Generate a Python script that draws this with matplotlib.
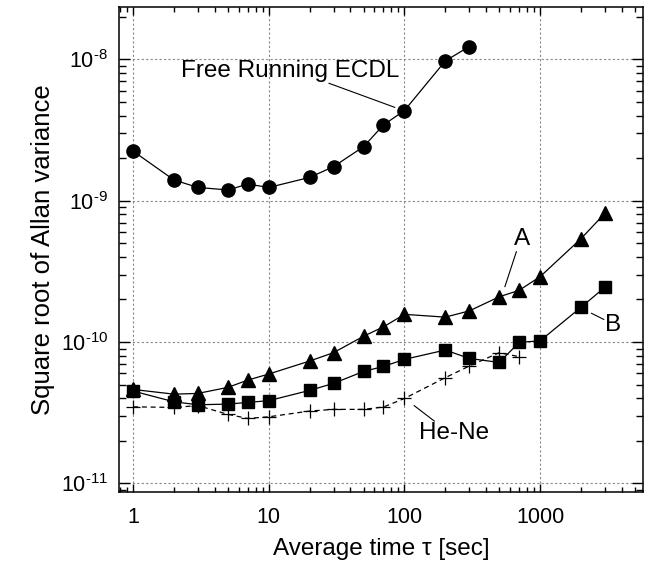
import matplotlib
matplotlib.use("Agg")
import matplotlib.pyplot as plt
from matplotlib.ticker import LogLocator, FixedLocator, NullFormatter

plt.rcParams['font.family'] = ['Liberation Sans', 'DejaVu Sans']
plt.rcParams['mathtext.fontset'] = 'custom'
plt.rcParams['mathtext.rm'] = 'Liberation Sans'
plt.rcParams['mathtext.it'] = 'Liberation Sans:italic'

# free running ECDL
tau_ecdl = [1, 2, 3, 5, 7, 10, 20, 30, 50, 70, 100, 200, 300]
ecdl = [2.24e-9, 1.40e-9, 1.24e-9, 1.19e-9, 1.31e-9, 1.24e-9, 1.46e-9,
        1.74e-9, 2.41e-9, 3.43e-9, 4.34e-9, 9.73e-9, 1.23e-8]

# stabilized A (triangles)
tau_ab = [1, 2, 3, 5, 7, 10, 20, 30, 50, 70, 100, 200, 300, 500, 700,
          1000, 2000, 3000]
sig_a = [4.62e-11, 4.28e-11, 4.33e-11, 4.78e-11, 5.38e-11, 5.94e-11,
         7.34e-11, 8.41e-11, 1.10e-10, 1.28e-10, 1.57e-10, 1.50e-10,
         1.66e-10, 2.09e-10, 2.32e-10, 2.90e-10, 5.38e-10, 8.13e-10]
# stabilized B (squares)
sig_b = [4.50e-11, 3.78e-11, 3.60e-11, 3.64e-11, 3.74e-11, 3.85e-11,
         4.55e-11, 5.10e-11, 6.20e-11, 6.72e-11, 7.54e-11, 8.78e-11,
         7.66e-11, 7.17e-11, 9.95e-11, 1.02e-10, 1.76e-10, 2.44e-10]

# He-Ne reference
tau_hene = [1, 2, 3, 5, 7, 10, 20, 30, 50, 70, 100, 200, 300, 500, 700]
hene = [3.48e-11, 3.45e-11, 3.55e-11, 3.08e-11, 2.88e-11, 2.96e-11,
        3.25e-11, 3.34e-11, 3.34e-11, 3.47e-11, 3.99e-11, 5.60e-11,
        6.76e-11, 8.41e-11, 7.88e-11]

ytick_exp = ['11', '10', '9', '8']

fig = plt.figure(figsize=(6.48, 5.72), dpi=100)
ax = fig.add_axes([0.184, 0.1399, 0.8078, 0.8473])

ax.plot(tau_ecdl, ecdl, 'k-', marker='o', ms=9.5, lw=0.9)
ax.plot(tau_ab, sig_a, 'k-', marker='^', ms=9.5, lw=0.9)
ax.plot(tau_ab, sig_b, 'k-', marker='s', ms=8.5, lw=0.9)
ax.plot(tau_hene, hene, 'k--', marker='+', ms=10, mew=0.9, lw=0.9,
        dashes=(4, 3))

ax.set_xscale('log')
ax.set_yscale('log')
ax.set_xlim(0.79, 5700)
ax.set_ylim(8.7e-12, 2.33e-8)

ax.xaxis.set_major_locator(FixedLocator([1, 10, 100, 1000]))
ax.set_xticklabels(['1', '10', '100', '1000'])
ax.xaxis.set_minor_locator(LogLocator(base=10, subs=range(2, 10)))
ax.xaxis.set_minor_formatter(NullFormatter())
ax.yaxis.set_major_locator(FixedLocator([1e-11, 1e-10, 1e-9, 1e-8]))
ax.set_yticklabels(['10$^{\\mathregular{\u2010' + e + '}}$' for e in ytick_exp])
ax.yaxis.set_minor_locator(LogLocator(base=10, subs=range(2, 10)))
ax.yaxis.set_minor_formatter(NullFormatter())

ax.tick_params(which='both', direction='in', top=True, right=True,
               labelsize=15.5, width=1.0)
ax.tick_params(axis='x', which='major', length=6, pad=11)
ax.tick_params(axis='x', which='minor', length=3.5)
ax.tick_params(axis='y', which='major', length=8, pad=8)
ax.tick_params(axis='y', which='minor', length=5)
for s in ax.spines.values():
    s.set_linewidth(1.1)

ax.grid(True, which='major', ls=(0, (2, 2)), color='#888888', lw=0.8)

ax.set_xlabel('Average time τ [sec]', fontsize=17.5, labelpad=7)
ax.set_ylabel('Square root of Allan variance', fontsize=18.5, labelpad=4)

# annotations
ax.text(14.5, 10**-8.08, 'Free Running ECDL', fontsize=17.5, ha='center',
        va='center')
ax.plot([27.8, 84.7], [10**-8.170, 10**-8.340], 'k-', lw=0.8)
ax.text(740, 10**-9.274, 'A', fontsize=17.5, ha='center', va='center')
ax.plot([668, 550], [10**-9.361, 10**-9.608], 'k-', lw=0.8)
ax.text(3475, 10**-9.880, 'B', fontsize=17.5, ha='center', va='center')
ax.plot([2393, 2945], [10**-9.797, 10**-9.840], 'k-', lw=0.8)
ax.text(233, 10**-10.646, 'He-Ne', fontsize=17.5, ha='center', va='center')
ax.plot([118, 166], [10**-10.450, 10**-10.559], 'k-', lw=0.8)

fig.savefig('out.png', dpi=100)
